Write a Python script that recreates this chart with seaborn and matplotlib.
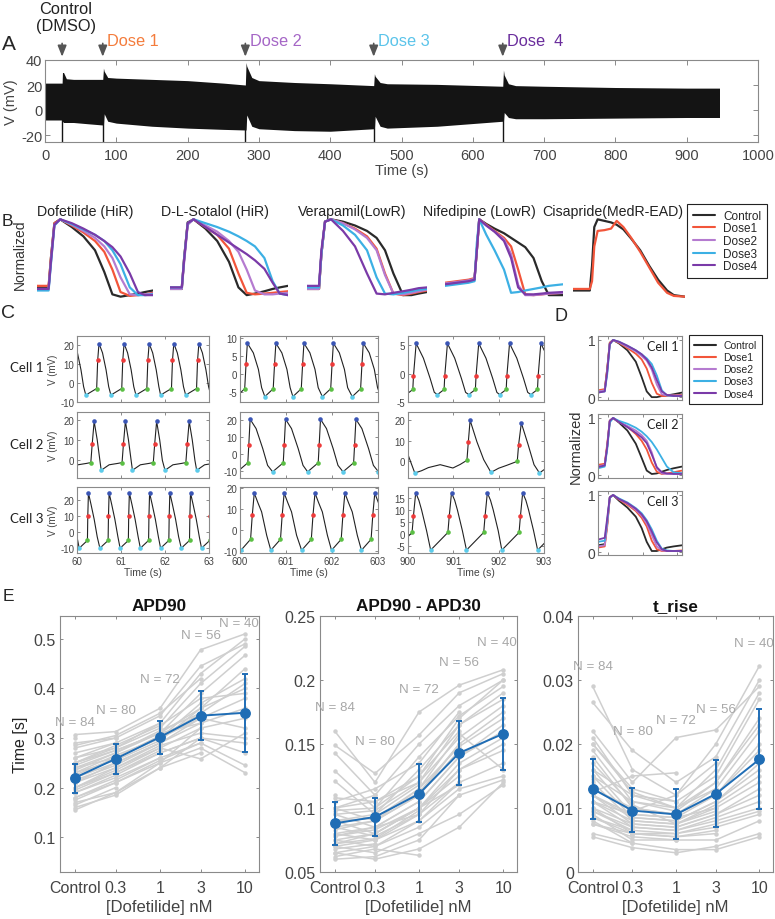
import numpy as np
import pandas as pd
import matplotlib
matplotlib.use('Agg')
import matplotlib.pyplot as plt
import seaborn as sns
from matplotlib.lines import Line2D

W, H = 775, 920

# ---------------- data ----------------
# panel A: envelope of the long recording (mV)
a_time = [0, 24, 24.5, 26, 30, 40, 60, 81, 82, 83, 88, 100, 150, 200, 250, 281, 282, 283, 290, 300,
          350, 400, 461, 462, 463, 470, 480, 550, 642, 643, 644, 650, 660, 700, 800, 900, 946]
a_upper = [21.5, 21.5, 30, 30, 25, 24.5, 24.5, 24.5, 33.5, 31, 26, 25.5, 24.5, 23.5, 21.5, 20, 38, 35, 26, 23.5,
           22, 21, 19.5, 29, 27, 22, 21, 20.5, 19, 32, 28, 21, 19.5, 19, 18, 17.5, 17.5]
a_lower = [-8, -8, -9, -10, -10, -10, -11, -12, -12, -3, -9, -10.5, -13, -14.5, -15.5, -16, -16, -4, -13, -15,
           -16.5, -17, -15, -15, -5, -13, -14.5, -13, -9, -9, -2, -6, -7, -7, -6.5, -6, -6]
dose_times = [24, 81, 281, 461, 642]
dose_texts = ['Control\n(DMSO)', 'Dose 1', 'Dose 2', 'Dose 3', 'Dose  4']
dose_text_colors = ['#222222', '#f47c3c', '#a566c6', '#5bc4ea', '#6a2d9c']

# panel B / D: trace colours
trace_names = ['Control', 'Dose1', 'Dose2', 'Dose3', 'Dose4']
trace_colors = ['#2a2a2a', '#f2553a', '#b57bd0', '#3cb0e4', '#7a3aa8']

# panel B: normalised action potentials per drug
drugs = ['Dofetilide (HiR)', 'D-L-Sotalol (HiR)', 'Verapamil(LowR)', 'Nifedipine (LowR)', 'Cisapride(MedR-EAD)']
gB = [0, 0.1, 0.12, 0.15, 0.2, 0.3, 0.4, 0.5, 0.58, 0.65, 0.72, 0.8, 0.87, 0.93, 1.0]
dofetilide = [
    [0.12, 0.12, 0.5, 0.95, 1.0, 0.9, 0.78, 0.6, 0.32, 0.03, 0.0, 0.02, 0.04, 0.06, 0.08],
    [0.14, 0.14, 0.5, 0.95, 1.0, 0.92, 0.83, 0.72, 0.58, 0.35, 0.06, 0.01, 0.02, 0.03, 0.05],
    [0.1, 0.1, 0.45, 0.93, 1.0, 0.93, 0.85, 0.76, 0.65, 0.5, 0.25, 0.03, 0.02, 0.03, 0.04],
    [0.08, 0.08, 0.42, 0.92, 1.0, 0.94, 0.87, 0.8, 0.72, 0.6, 0.42, 0.12, 0.02, 0.02, 0.03],
    [0.1, 0.1, 0.45, 0.93, 1.0, 0.95, 0.88, 0.8, 0.72, 0.64, 0.52, 0.3, 0.06, 0.02, 0.02]]
sotalol = [
    [0.1, 0.1, 0.5, 0.96, 1.0, 0.88, 0.72, 0.45, 0.12, 0.02, 0.04, 0.07, 0.1, 0.12, 0.14],
    [0.12, 0.12, 0.5, 0.95, 1.0, 0.9, 0.8, 0.62, 0.3, 0.05, 0.03, 0.04, 0.05, 0.06, 0.07],
    [0.1, 0.1, 0.45, 0.93, 1.0, 0.92, 0.84, 0.72, 0.58, 0.35, 0.08, 0.03, 0.03, 0.04, 0.05],
    [0.12, 0.12, 0.5, 0.95, 1.0, 0.95, 0.9, 0.84, 0.78, 0.72, 0.65, 0.5, 0.2, 0.04, 0.02],
    [0.12, 0.12, 0.48, 0.95, 1.0, 0.9, 0.8, 0.7, 0.62, 0.55, 0.47, 0.36, 0.18, 0.04, 0.02]]
verapamil = [
    [0.1, 0.1, 0.55, 0.97, 1.0, 0.97, 0.92, 0.85, 0.76, 0.6, 0.3, 0.02, 0.02, 0.04, 0.06],
    [0.1, 0.1, 0.55, 0.97, 1.0, 0.95, 0.88, 0.78, 0.62, 0.3, 0.04, 0.02, 0.04, 0.06, 0.08],
    [0.1, 0.1, 0.55, 0.97, 1.0, 0.95, 0.87, 0.76, 0.6, 0.28, 0.04, 0.03, 0.05, 0.07, 0.09],
    [0.12, 0.12, 0.55, 0.97, 1.0, 0.92, 0.8, 0.6, 0.25, 0.04, 0.03, 0.05, 0.07, 0.09, 0.1],
    [0.14, 0.14, 0.6, 0.97, 1.0, 0.85, 0.65, 0.3, 0.04, 0.03, 0.05, 0.07, 0.09, 0.11, 0.12]]
gNif = [0, 0.1, 0.2, 0.25, 0.27, 0.29, 0.35, 0.42, 0.5, 0.56, 0.62, 0.68, 0.75, 0.82, 0.88, 1.0]
nifedipine = [
    [0.16, 0.18, 0.2, 0.22, 0.6, 1.0, 0.94, 0.88, 0.82, 0.76, 0.7, 0.64, 0.5, 0.2, 0.02, 0.02],
    [0.18, 0.2, 0.22, 0.24, 0.6, 1.0, 0.93, 0.85, 0.76, 0.65, 0.35, 0.03, 0.02, 0.03, 0.04, 0.05],
    [0.17, 0.19, 0.21, 0.23, 0.6, 1.0, 0.92, 0.84, 0.74, 0.55, 0.15, 0.02, 0.02, 0.03, 0.04, 0.05],
    [0.14, 0.16, 0.18, 0.2, 0.7, 1.0, 0.8, 0.6, 0.35, 0.05, 0.06, 0.08, 0.1, 0.12, 0.14, 0.16],
    [0.16, 0.18, 0.2, 0.22, 0.6, 1.0, 0.92, 0.84, 0.72, 0.5, 0.12, 0.03, 0.03, 0.04, 0.05, 0.06]]
gCis = [0, 0.15, 0.17, 0.19, 0.22, 0.28, 0.34, 0.39, 0.45, 0.52, 0.6, 0.68, 0.76, 0.84, 0.9, 1.0]
cisapride = [
    [0.08, 0.08, 0.4, 0.9, 1.0, 0.98, 0.96, 0.93, 0.87, 0.75, 0.6, 0.4, 0.22, 0.08, 0.02, 0.0],
    [0.1, 0.1, 0.2, 0.65, 0.85, 0.86, 0.88, 0.98, 0.9, 0.76, 0.58, 0.38, 0.18, 0.05, 0.01, 0.0]]

# panel C: single-cell recordings, beat peak times + beat shape (offset from peak, mV)
c_windows = [(60, 63), (600, 603), (900, 903)]
c11_beats = [59.93, 60.5, 61.07, 61.64, 62.2, 62.77, 63.34]
c11_dt = [-0.30, -0.053, -0.03, 0, 0.08, 0.16, 0.22]
c11_v = [-6.5, -3, 12, 21, 16, 7, -2]
c12_beats = [599.54, 600.16, 600.78, 601.39, 602.03, 602.68, 603.3]
c12_dt = [-0.24, -0.058, -0.029, 0, 0.13, 0.24, 0.31]
c12_v = [-6.4, -4.2, 2.6, 8.5, 5.8, 1.2, -3.9]
c13_beats = [899.49, 900.18, 900.87, 901.56, 902.24, 902.93, 903.6]
c13_dt = [-0.22, -0.074, -0.059, 0, 0.16, 0.31, 0.4]
c13_v = [-3.7, -2.8, -0.4, 5.3, 2.7, -0.9, -3.3]
c21_beats = [59.67, 60.39, 61.1, 61.81, 62.55, 63.27]
c21_dt = [-0.55, -0.37, -0.17, -0.076, -0.045, 0, 0.07, 0.13]
c21_v = [-4.9, -2.2, -1.5, -1.1, 7.9, 19.2, 10, 0]
c22_beats = [599.45, 600.22, 600.99, 601.75, 602.52, 603.29]
c22_dt = [-0.28, -0.05, -0.029, 0, 0.13, 0.275, 0.38]
c22_v = [-10.2, -5, 5.2, 20.2, 14.8, 3.2, -6.5]
c23_t = [900.0, 900.15, 900.3, 900.45, 900.71, 900.99, 901.15, 901.3, 901.33, 901.37, 901.52,
         901.67, 901.83, 902.0, 902.18, 902.41, 902.44, 902.5, 902.65, 902.78, 902.9, 903.0]
c23_v = [3.2, -5.6, -4.5, -3.0, -1.6, -3.2, -1.5, 0.5, 9.2, 19.7, 9.4,
         0.8, -5.3, -3.3, -1.9, 0.0, 8.0, 18.4, 8.0, -1.6, -5.6, -4.0]
c31_beats = [59.8, 60.26, 60.73, 61.19, 61.65, 62.11, 62.58, 63.04]
c31_dt = [-0.21, -0.023, -0.015, 0, 0.06, 0.13, 0.2]
c31_v = [-10, -5.2, 9.8, 24.3, 17, 8, -3]
c32_beats = [599.66, 600.31, 600.96, 601.63, 602.28, 602.93, 603.58]
c32_dt = [-0.29, -0.08, -0.043, 0, 0.08, 0.16, 0.27]
c32_v = [-9.5, -4.3, 7.2, 17.6, 13, 8.7, -2.4]
c33_beats = [899.38, 900.17, 900.96, 901.75, 902.53, 903.32]
c33_dt = [-0.46, -0.08, -0.05, 0, 0.07, 0.13, 0.24]
c33_v = [-6.6, 0.7, 7.5, 17.1, 14, 10, 1.4]
c_ylims = [[(-10.2, 25), (-7.9, 10.5), (-5, 6.6)],
           [(-8.7, 23.8), (-13.8, 24.4), (-8, 23.7)],
           [(-13, 28), (-10.8, 20.5), (-7.8, 19.5)]]
c_yticks = [[[-10, 0, 10, 20], [-5, 0, 5, 10], [-5, 0, 5]],
            [[0, 10, 20], [-10, 0, 10, 20], [0, 10, 20]],
            [[-10, 0, 10, 20], [-10, 0, 10, 20], [-5, 0, 5, 10, 15]]]

# panel D: normalised APs of three cells
gD = [0, 0.08, 0.11, 0.14, 0.18, 0.25, 0.35, 0.45, 0.52, 0.58, 0.64, 0.7, 0.76, 0.82, 0.9, 1.0]
cell1_ap = [
    [0.10, 0.12, 0.5, 0.95, 1.0, 0.94, 0.82, 0.62, 0.35, 0.1, 0.0, 0.0, 0.02, 0.03, 0.05, 0.08],
    [0.12, 0.14, 0.5, 0.95, 1.0, 0.95, 0.86, 0.76, 0.66, 0.5, 0.25, 0.06, 0.02, 0.02, 0.03, 0.04],
    [0.1, 0.12, 0.45, 0.93, 1.0, 0.96, 0.88, 0.8, 0.72, 0.64, 0.48, 0.22, 0.05, 0.03, 0.03, 0.03],
    [0.08, 0.1, 0.4, 0.92, 1.0, 0.97, 0.9, 0.82, 0.75, 0.68, 0.58, 0.38, 0.12, 0.03, 0.02, 0.02],
    [0.08, 0.1, 0.45, 0.93, 1.0, 0.97, 0.9, 0.82, 0.75, 0.66, 0.52, 0.3, 0.1, 0.04, 0.02, 0.02]]
cell2_ap = [
    [0.15, 0.18, 0.5, 0.95, 1.0, 0.92, 0.78, 0.55, 0.3, 0.08, 0.02, 0.03, 0.06, 0.09, 0.12, 0.15],
    [0.18, 0.2, 0.55, 0.95, 1.0, 0.93, 0.85, 0.72, 0.6, 0.45, 0.22, 0.06, 0.02, 0.03, 0.05, 0.08],
    [0.15, 0.18, 0.5, 0.95, 1.0, 0.93, 0.86, 0.78, 0.7, 0.6, 0.4, 0.12, 0.03, 0.02, 0.03, 0.04],
    [0.12, 0.15, 0.45, 0.92, 1.0, 0.95, 0.9, 0.83, 0.76, 0.68, 0.58, 0.45, 0.3, 0.15, 0.05, 0.03],
    [0.14, 0.17, 0.5, 0.95, 1.0, 0.93, 0.84, 0.74, 0.66, 0.56, 0.36, 0.14, 0.05, 0.03, 0.02, 0.02]]
cell3_ap = [
    [0.12, 0.14, 0.5, 0.96, 1.0, 0.9, 0.78, 0.62, 0.42, 0.18, 0.02, 0.02, 0.05, 0.08, 0.1, 0.12],
    [0.08, 0.1, 0.45, 0.95, 1.0, 0.92, 0.83, 0.72, 0.6, 0.45, 0.2, 0.05, 0.02, 0.02, 0.02, 0.03],
    [0.1, 0.12, 0.5, 0.95, 1.0, 0.93, 0.85, 0.74, 0.64, 0.5, 0.3, 0.1, 0.03, 0.02, 0.02, 0.02],
    [0.18, 0.2, 0.55, 0.95, 1.0, 0.94, 0.87, 0.77, 0.68, 0.56, 0.4, 0.2, 0.06, 0.03, 0.02, 0.02],
    [0.22, 0.25, 0.6, 0.96, 1.0, 0.93, 0.86, 0.76, 0.66, 0.54, 0.36, 0.17, 0.05, 0.02, 0.02, 0.02]]

# panel E: per-cell values at each dofetilide dose (Control drawn at 0.1 on the log axis)
e_doses = [0.1, 0.3, 1, 3, 10]
e_dose_labels = ['Control', '0.3', '1', '3', '10']
e_counts = [84, 80, 72, 56, 40]
nan = np.nan
apd90_cells = [
    [0.307, 0.313, 0.36, 0.478, 0.51], [0.29, 0.30, 0.345, 0.445, 0.49], [0.27, 0.29, 0.33, 0.43, 0.5],
    [0.26, 0.28, 0.32, 0.41, 0.485], [0.25, 0.275, 0.31, 0.39, 0.467], [0.24, 0.26, 0.30, 0.37, 0.42],
    [0.23, 0.255, 0.295, 0.36, 0.40], [0.22, 0.25, 0.29, 0.34, 0.38], [0.21, 0.24, 0.28, 0.32, 0.34],
    [0.2, 0.23, 0.27, 0.3, 0.29], [0.19, 0.22, 0.26, 0.29, 0.245], [0.18, 0.21, 0.25, 0.28, 0.23],
    [0.17, 0.19, 0.24, 0.27, nan], [0.16, 0.185, 0.24, 0.3, nan], [0.155, 0.19, 0.25, 0.32, nan],
    [0.285, 0.305, 0.35, 0.42, nan], [0.235, 0.27, 0.315, 0.35, nan], [0.2, 0.235, 0.28, 0.258, 0.31],
    [0.215, 0.245, 0.29, nan, nan], [0.25, 0.28, 0.33, nan, nan], [0.18, 0.215, 0.26, nan, nan],
    [0.165, 0.2, nan, nan, nan], [0.26, 0.29, nan, nan, nan], [0.3, nan, nan, nan, nan],
    [0.24, 0.27, 0.31, 0.36, 0.44], [0.22, 0.26, 0.3, 0.35, 0.41], [0.21, 0.25, 0.29, 0.33, 0.36],
    [0.2, 0.24, 0.285, 0.31, 0.3], [0.19, 0.225, 0.27, 0.3, 0.27], [0.23, 0.265, 0.3, 0.34, 0.32],
    [0.25, 0.285, 0.325, 0.38, 0.39], [0.175, 0.21, 0.255, 0.29, nan], [0.225, 0.26, 0.305, 0.345, nan],
    [0.245, 0.275, 0.31, 0.33, nan], [0.195, 0.23, 0.275, nan, nan], [0.28, 0.3, nan, nan, nan]]
apd90_mean = [0.22, 0.258, 0.302, 0.345, 0.351]
apd90_lo = [0.19, 0.228, 0.268, 0.296, 0.272]
apd90_hi = [0.248, 0.287, 0.335, 0.395, 0.43]
apd90_n_y = [0.333, 0.357, 0.419, 0.507, 0.532]

tri_cells = [
    [0.16, 0.12, 0.175, 0.196, 0.208], [0.149, 0.127, 0.157, 0.19, 0.205], [0.143, 0.11, 0.15, 0.18, 0.2],
    [0.129, 0.1, 0.14, 0.172, 0.195], [0.121, 0.095, 0.13, 0.165, 0.19], [0.108, 0.105, 0.12, 0.155, 0.18],
    [0.1, 0.09, 0.115, 0.148, 0.17], [0.095, 0.085, 0.105, 0.14, 0.16], [0.09, 0.08, 0.1, 0.13, 0.15],
    [0.085, 0.078, 0.095, 0.12, 0.135], [0.08, 0.075, 0.09, 0.115, 0.125], [0.075, 0.07, 0.085, 0.11, 0.122],
    [0.07, 0.065, 0.08, 0.095, 0.118], [0.065, 0.06, 0.068, 0.085, 0.12], [0.06, 0.062, 0.075, 0.11, nan],
    [0.105, 0.115, 0.135, 0.175, nan], [0.098, 0.1, 0.125, 0.16, nan], [0.083, 0.09, 0.11, 0.145, nan],
    [0.072, 0.08, 0.1, 0.125, nan], [0.062, 0.068, 0.063, nan, nan], [0.09, 0.095, 0.118, nan, nan],
    [0.078, 0.085, 0.095, nan, nan], [0.068, 0.072, nan, nan, nan], [0.11, nan, nan, nan, nan],
    [0.095, 0.098, 0.12, 0.165, 0.185], [0.085, 0.09, 0.11, 0.15, 0.175], [0.08, 0.085, 0.105, 0.14, 0.165],
    [0.075, 0.08, 0.1, 0.135, 0.155], [0.07, 0.075, 0.095, 0.13, 0.145], [0.1, 0.105, 0.125, 0.17, 0.2],
    [0.09, 0.092, 0.115, 0.158, 0.13], [0.065, 0.07, 0.09, 0.12, nan], [0.088, 0.093, 0.112, 0.15, nan],
    [0.078, 0.083, 0.1, 0.118, nan], [0.072, 0.076, 0.098, nan, nan], [0.1, 0.11, nan, nan, nan]]
tri_mean = [0.088, 0.093, 0.111, 0.143, 0.158]
tri_lo = [0.071, 0.078, 0.089, 0.118, 0.13]
tri_hi = [0.105, 0.108, 0.134, 0.168, 0.186]
tri_n_y = [0.179, 0.152, 0.193, 0.214, 0.23]

trise_cells = [
    [0.029, 0.016, 0.012, 0.02, 0.0322], [0.0265, 0.019, 0.014, 0.018, 0.03], [0.022, 0.014, 0.021, 0.0222, 0.029],
    [0.021, 0.012, 0.01, 0.016, 0.028], [0.02, 0.013, 0.011, 0.015, 0.027], [0.019, 0.011, 0.0095, 0.014, 0.024],
    [0.018, 0.01, 0.009, 0.013, 0.022], [0.016, 0.009, 0.0085, 0.012, 0.02], [0.015, 0.0085, 0.008, 0.011, 0.016],
    [0.014, 0.008, 0.0075, 0.01, 0.014], [0.012, 0.0075, 0.007, 0.009, 0.012], [0.011, 0.007, 0.0065, 0.008, 0.01],
    [0.01, 0.006, 0.006, 0.007, 0.009], [0.009, 0.005, 0.005, 0.005, 0.008], [0.006, 0.0045, 0.0035, 0.0035, 0.0055],
    [0.0055, 0.0038, 0.003, 0.004, 0.006], [0.013, 0.0095, 0.012, 0.017, nan], [0.0085, 0.006, 0.0055, 0.0065, nan],
    [0.017, 0.0105, 0.0075, 0.0095, nan], [0.0075, 0.0055, 0.005, nan, nan], [0.0125, 0.015, 0.0155, nan, nan],
    [0.0095, 0.0065, nan, nan, nan], [0.008, 0.0045, nan, nan, nan], [0.0145, nan, nan, nan, nan],
    [0.015, 0.011, 0.01, 0.014, 0.023], [0.013, 0.01, 0.009, 0.012, 0.019], [0.012, 0.0085, 0.008, 0.011, 0.017],
    [0.011, 0.008, 0.0075, 0.0105, 0.015], [0.01, 0.0075, 0.007, 0.009, 0.013], [0.0095, 0.007, 0.0065, 0.0085, 0.011],
    [0.0085, 0.0065, 0.006, 0.0075, 0.0095], [0.02, 0.0125, 0.01, 0.013, nan], [0.011, 0.009, 0.0085, 0.01, nan],
    [0.0075, 0.006, 0.0055, 0.006, nan], [0.016, 0.012, 0.011, nan, nan], [0.012, 0.009, nan, nan, nan]]
trise_mean = [0.013, 0.0096, 0.009, 0.0122, 0.0176]
trise_lo = [0.0083, 0.0062, 0.0052, 0.007, 0.0099]
trise_hi = [0.0176, 0.0131, 0.0129, 0.0175, 0.0254]
trise_n_y = [0.0322, 0.0221, 0.0238, 0.0255, 0.0358]

# ---------------- style ----------------
sns.set_theme(style='white')
plt.rcParams['font.family'] = ['Liberation Sans', 'DejaVu Sans']
plt.rcParams['axes.unicode_minus'] = False

fig = plt.figure(figsize=(W / 100, H / 100), dpi=100)


def px_axes(left, top, width, height):
    return fig.add_axes([left / W, 1 - (top + height) / H, width / W, height / H])


def fig_text(x, y, s, **kw):
    fig.text(x / W, 1 - y / H, s, **kw)


def box_style(ax, size, length=3, spine='#8a8a8a'):
    for sp in ax.spines.values():
        sp.set_visible(True)
        sp.set_color(spine)
        sp.set_linewidth(0.8)
    ax.tick_params(which='both', direction='in', top=True, right=True, bottom=True, left=True,
                   length=length, width=0.7, color=spine, labelsize=size, labelcolor='#444444', pad=2)


def draw_traces(ax, x, traces, names, lw):
    rows = [(n, xi, yi) for n, ys in zip(names, traces) for xi, yi in zip(x, ys)]
    df = pd.DataFrame(rows, columns=['dose', 't', 'v'])
    pal = dict(zip(trace_names, trace_colors))
    sns.lineplot(data=df, x='t', y='v', hue='dose', palette=pal, lw=lw, ax=ax,
                 legend=False, estimator=None, sort=False)
    ax.set_xlabel('')
    ax.set_ylabel('')


def trace_legend(x, y, size, hl, sp):
    handles = [Line2D([], [], color=c, lw=1.5) for c in trace_colors]
    leg = fig.legend(handles, trace_names, loc='upper left', bbox_to_anchor=(x / W, 1 - y / H),
                     fontsize=size, frameon=True, fancybox=False, framealpha=1, edgecolor='#222222',
                     handlelength=hl, handletextpad=0.7, labelspacing=sp, borderpad=0.5, borderaxespad=0)
    leg.get_frame().set_linewidth(0.8)


# ---------------- A ----------------
axA = px_axes(45, 61, 713, 82)
axA.fill_between(a_time, a_lower, a_upper, color='#141414', lw=0)
axA.vlines(dose_times, -26, 0, color='#141414', lw=1)
axA.set_xlim(0, 1000)
axA.set_ylim(-25.6, 40)
axA.set_xticks(range(0, 1001, 100))
axA.set_yticks([-20, 0, 20, 40])
box_style(axA, 10.5, length=3.5)
axA.tick_params(axis='x', pad=4)
axA.set_xlabel('Time (s)', fontsize=10.5, color='#444444', labelpad=1)
axA.set_ylabel('V (mV)', fontsize=10.5, color='#444444', labelpad=2)
for i, (t, s, c) in enumerate(zip(dose_times, dose_texts, dose_text_colors)):
    axA.annotate('', xy=(t, 40.4), xytext=(t, 55.5), annotation_clip=False,
                 arrowprops=dict(arrowstyle='-|>,head_width=0.22,head_length=0.55', color='#555555', lw=1.2))
    if i == 0:
        axA.text(t + 5, 74.5, s, ha='center', va='center', fontsize=11.8, color=c,
                 linespacing=1.15, clip_on=False)
    else:
        axA.annotate(s, xy=(t, 55.3), xytext=(3, 0), textcoords='offset points', ha='left', va='center',
                     fontsize=11.8, color=c, annotation_clip=False)
fig_text(2, 45, 'A', fontsize=15, va='center')

# ---------------- B ----------------
b_left = [37, 170, 307, 445, 573]
b_width = [116, 118, 120, 118, 112]
b_title_x = [85, 215, 352, 479, 613]
b_grids = [gB, gB, gB, gNif, gCis]
b_data = [dofetilide, sotalol, verapamil, nifedipine, cisapride]
for i in range(5):
    ax = px_axes(b_left[i], 218, b_width[i], 82)
    draw_traces(ax, b_grids[i], b_data[i], trace_names[:len(b_data[i])], 1.6)
    ax.set_xlim(0, 1)
    ax.set_ylim(-0.03, 1.03)
    ax.axis('off')
    fig_text(b_title_x[i], 212, drugs[i], fontsize=10.2, ha='center', va='center', color='#222222')
fig_text(20, 255, 'Normalized', fontsize=10, rotation=90, ha='center', va='center', color='#333333')
fig_text(2, 221, 'B', fontsize=12.5, va='center')
trace_legend(687, 205, 8.5, 1.85, 0.05)

# ---------------- C ----------------
c_left = [77, 240, 408]
c_width = [132, 138, 136]
c_top = [337, 413, 488]
shapes = {(0, 0): (c11_beats, c11_dt, c11_v, [0, 1, 2, 3]),
          (0, 1): (c12_beats, c12_dt, c12_v, [0, 1, 2, 3]),
          (0, 2): (c13_beats, c13_dt, c13_v, [0, 1, 2, 3]),
          (1, 0): (c21_beats, c21_dt, c21_v, [0, 3, 4, 5]),
          (1, 1): (c22_beats, c22_dt, c22_v, [0, 1, 2, 3]),
          (2, 0): (c31_beats, c31_dt, c31_v, [0, 1, 2, 3]),
          (2, 1): (c32_beats, c32_dt, c32_v, [0, 1, 2, 3]),
          (2, 2): (c33_beats, c33_dt, c33_v, [0, 1, 2, 3])}
mk_colors = ['#5ccbea', '#5bbf44', '#ee3a3a', '#3a55b5']
for r in range(3):
    for c in range(3):
        ax = px_axes(c_left[c], c_top[r], c_width[c], 66)
        if (r, c) in shapes:
            beats, dt, v, idx = shapes[(r, c)]
            tt = [b + d for b in beats for d in dt]
            vv = [x for b in beats for x in v]
            marks = [([b + dt[k] for b in beats], [v[k]] * len(beats)) for k in idx]
        else:
            tt, vv = c23_t, c23_v
            marks = [([c23_t[k] for k in ks], [c23_v[k] for k in ks])
                     for ks in ([1, 12, 20], [7, 15], [8, 16], [9, 17])]
        ax.plot(tt, vv, color='#222222', lw=0.8)
        for (mt, mv), mc in zip(marks, mk_colors):
            ax.plot(mt, mv, ls='none', marker='o', ms=3.3, mew=0, color=mc)
        ax.set_xlim(*c_windows[c])
        ax.set_ylim(*c_ylims[r][c])
        ax.set_xticks(range(c_windows[c][0], c_windows[c][1] + 1))
        ax.set_yticks(c_yticks[r][c])
        box_style(ax, 7, length=2.5)
        if r < 2:
            ax.set_xticklabels([])
        else:
            ax.set_xlabel('Time (s)', fontsize=7.5, color='#444444', labelpad=1)
        if c == 0:
            fig_text(53, c_top[r] + 33, 'V (mV)', fontsize=7, rotation=90, ha='center', va='center',
                     color='#444444')
for r, y in enumerate([368, 445, 519]):
    fig_text(10, y, f'Cell {r + 1}', fontsize=9.5, va='center', family=['Lato', 'DejaVu Sans'],
             color='#222222')
fig_text(1, 314, 'C', fontsize=14, va='center')

# ---------------- D ----------------
d_top = [337, 415, 492]
d_cells = [cell1_ap, cell2_ap, cell3_ap]
for r in range(3):
    ax = px_axes(598, d_top[r], 84, 64)
    draw_traces(ax, gD, d_cells[r], trace_names, 1.3)
    ax.set_xlim(0, 1)
    ax.set_ylim(-0.05, 1.07)
    ax.set_yticks([0, 1])
    ax.set_xticks([0.12, 0.53, 0.94])
    box_style(ax, 10, length=2.5)
    ax.set_xticklabels([])
    ax.text(0.96, 0.84, f'Cell {r + 1}', transform=ax.transAxes, ha='right', va='center',
            fontsize=9, family=['Lato', 'DejaVu Sans'], color='#222222')
fig_text(576, 447, 'Normalized', fontsize=10.5, rotation=90, ha='center', va='center', color='#333333')
fig_text(555, 317, 'D', fontsize=13, va='center')
trace_legend(689, 336, 7.5, 2.1, 0.2)

# ---------------- E ----------------
e_left = [60, 320, 578]
e_width = [199, 197, 195]
e_titles = ['APD90', 'APD90 - APD30', 't_rise']
e_cells = [apd90_cells, tri_cells, trise_cells]
e_means = [apd90_mean, tri_mean, trise_mean]
e_lo = [apd90_lo, tri_lo, trise_lo]
e_hi = [apd90_hi, tri_hi, trise_hi]
e_n_y = [apd90_n_y, tri_n_y, trise_n_y]
e_ylims = [(0.03, 0.546), (0.05, 0.25), (0, 0.04)]
e_yticks = [[0.1, 0.2, 0.3, 0.4, 0.5], [0.05, 0.1, 0.15, 0.2, 0.25], [0, 0.01, 0.02, 0.03, 0.04]]
e_yticklabels = [['0.1', '0.2', '0.3', '0.4', '0.5'], ['0.05', '0.1', '0.15', '0.2', '0.25'],
                 ['0', '0.01', '0.02', '0.03', '0.04']]
blue = '#1f6db5'
for i in range(3):
    ax = px_axes(e_left[i], 617, e_width[i], 256)
    rows = [(k, d, val) for k, cell in enumerate(e_cells[i]) for d, val in zip(e_doses, cell)]
    df = pd.DataFrame(rows, columns=['cell', 'dose', 'value']).dropna()
    sns.lineplot(data=df, x='dose', y='value', units='cell', estimator=None, color='#cfcfcf', lw=1.1,
                 marker='o', ms=3.2, mec='none', ax=ax, legend=False)
    m = np.array(e_means[i])
    ax.errorbar(e_doses, m, yerr=[m - np.array(e_lo[i]), np.array(e_hi[i]) - m], color=blue, lw=1.4,
                elinewidth=1.4, capsize=2.5, capthick=1.4, marker='o', ms=6.8, zorder=5)
    for j, (d, n, y) in enumerate(zip(e_doses, e_counts, e_n_y[i])):
        if j == len(e_doses) - 1:
            ax.annotate(f'N = {n}', xy=(d, y), xytext=(10, 0), textcoords='offset points', ha='right',
                        va='center', fontsize=9.6, color='#a8a8a8', annotation_clip=False)
        else:
            ax.text(d, y, f'N = {n}', ha='center', va='center', fontsize=9.6, color='#a8a8a8',
                    clip_on=False)
    ax.set_xscale('log')
    ax.set_xlim(0.0667, 14.56)
    ax.set_ylim(*e_ylims[i])
    ax.set_xticks(e_doses)
    ax.set_xticklabels(e_dose_labels)
    ax.minorticks_off()
    ax.set_yticks(e_yticks[i])
    ax.set_yticklabels(e_yticklabels[i])
    box_style(ax, 11.5, length=2.5)
    ax.tick_params(axis='x', pad=6)
    ax.tick_params(axis='y', pad=3)
    ax.set_xlabel('[Dofetilide] nM', fontsize=12, color='#444444', labelpad=3)
    ax.set_ylabel('Time [s]' if i == 0 else '', fontsize=11.5, color='#222222', labelpad=4)
    ax.set_title(e_titles[i], fontsize=12.3, fontweight='bold', pad=4, color='#111111')
fig_text(3, 597, 'E', fontsize=12.5, va='center')

fig.savefig('out.png', dpi=100)
